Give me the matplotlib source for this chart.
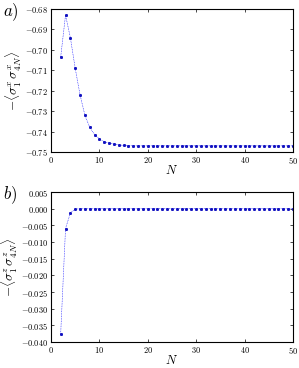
import matplotlib
matplotlib.use("Agg")
import matplotlib.pyplot as plt
from matplotlib.ticker import FuncFormatter

plt.rcParams['mathtext.fontset'] = 'cm'
plt.rcParams['font.family'] = 'serif'
plt.rcParams['font.serif'] = ['DejaVu Serif']

# panel a data: -<sigma_1^x sigma_4N^x>
N_a = list(range(2, 51))
corr_x = [-0.7035, -0.6830, -0.6940, -0.7090, -0.7220, -0.7320, -0.7380,
          -0.7415, -0.7435, -0.7450, -0.7456, -0.7461, -0.7465, -0.7468,
          -0.7469, -0.7470] + [-0.7470] * 33

# panel b data: -<sigma_1^z sigma_4N^z>
N_b = list(range(2, 51))
corr_z = [-0.0375, -0.0060, -0.0012, -0.0001] + [0.0] * 45

fig = plt.figure(figsize=(2.99, 3.68), dpi=100)
ax1 = fig.add_axes([0.1706, 0.587, 0.809, 0.3885])
ax2 = fig.add_axes([0.1706, 0.0707, 0.809, 0.4073])

def fmt2(v, pos):
    return r'$%.2f$' % v

def fmt3(v, pos):
    return r'$%.3f$' % v

for ax in (ax1, ax2):
    ax.tick_params(direction='in', top=True, right=True, labelsize=6,
                   length=2.5, width=0.5, pad=2)
    ax.set_xlim(0, 50)
    ax.set_xticks([0, 10, 20, 30, 40, 50])
    ax.xaxis.set_major_formatter(FuncFormatter(lambda v, p: r'$%d$' % v))
    for s in ax.spines.values():
        s.set_linewidth(0.8)
    ax.set_xlabel(r'$N$', fontsize=9, labelpad=-1)

ax1.plot(N_a, corr_x, ls='--', lw=0.4, color='blue', dashes=(1.5, 1.5),
         marker='s', ms=1.1, mec='#1010c0', mfc='#1010c0')
ax1.set_ylim(-0.75, -0.68)
ax1.set_yticks([-0.75, -0.74, -0.73, -0.72, -0.71, -0.70, -0.69, -0.68])
ax1.yaxis.set_major_formatter(FuncFormatter(fmt2))
ax1.set_ylabel(r'$-\langle\sigma_1^x\,\sigma_{4N}^x\rangle$', fontsize=9.5, labelpad=1)
fig.text(0.01, 0.955, r'$a)$', fontsize=12)

ax2.plot(N_b, corr_z, ls='--', lw=0.4, color='blue', dashes=(1.5, 1.5),
         marker='s', ms=1.1, mec='#1010c0', mfc='#1010c0')
ax2.set_ylim(-0.040, 0.005)
ax2.set_yticks([-0.040, -0.035, -0.030, -0.025, -0.020, -0.015, -0.010,
                -0.005, 0.000, 0.005])
ax2.yaxis.set_major_formatter(FuncFormatter(fmt3))
ax2.set_ylabel(r'$-\langle\sigma_1^z\,\sigma_{4N}^z\rangle$', fontsize=9.5, labelpad=1)
fig.text(0.01, 0.46, r'$b)$', fontsize=12)

fig.savefig('out.png', dpi=100)
